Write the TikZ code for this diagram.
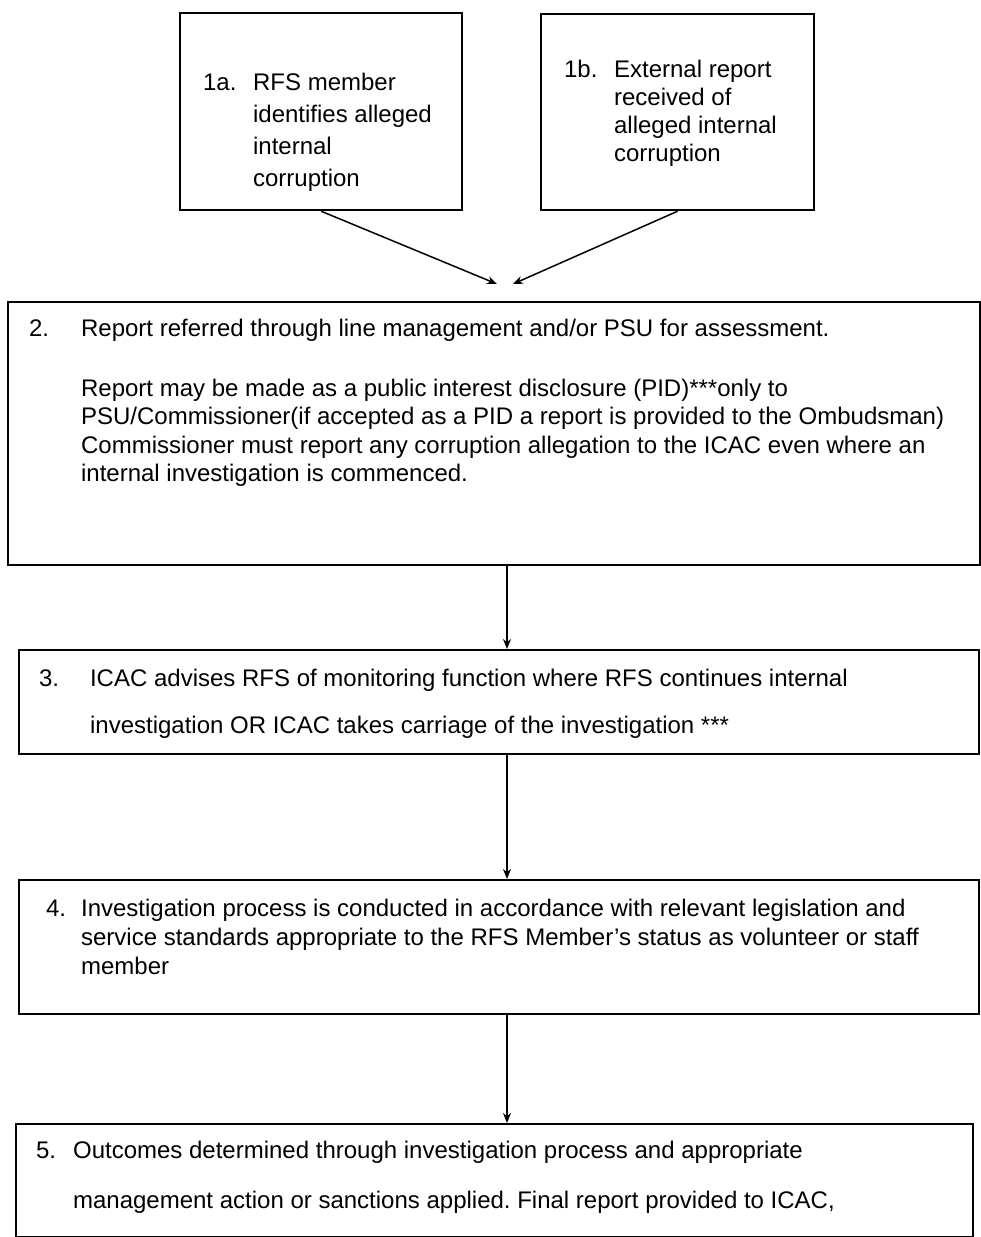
\documentclass[tikz,border=0pt]{standalone}
\usepackage{fontspec}
\setmainfont{Liberation Sans}
\usetikzlibrary{arrows.meta}
\frenchspacing

\begin{document}
\begin{tikzpicture}[x=0.5pt,y=-0.5pt,>={Stealth[length=5pt,width=4pt]},
  box/.style={draw,line width=1.1pt,inner sep=0pt,anchor=north west,font=\fontsize{12}{14}\selectfont},
  link/.style={->,line width=0.75pt}]
  \useasboundingbox (0,0) rectangle (980,1237);

  % Meldungen
  \node[box] (b1a) at (179,12) {\parbox[t][98.5pt][t]{141pt}{\vspace*{29.9pt}\hspace*{11.5pt}\makebox[25pt][l]{1a.}\parbox[t]{100pt}{\fontsize{12}{16}\selectfont RFS member\\identifies alleged\\internal\\corruption}}};
  \node[box] (b1b) at (540,13) {\parbox[t][98pt][t]{136.5pt}{\vspace*{22.9pt}\hspace*{11.5pt}\makebox[25pt][l]{1b.}\parbox[t]{100pt}{\fontsize{12}{14}\selectfont External report\\received of\\alleged internal\\corruption}}};

  % Schritte
  \node[box] (b2) at (7,301) {\parbox[t][131.5pt][t]{486pt}{\vspace*{8.4pt}\hspace*{10.5pt}\makebox[26pt][l]{2.}\parbox[t]{445pt}{\fontsize{12}{14.2}\selectfont Report referred through line management and/or PSU for assessment.\\[15.8pt]
    Report may be made as a public interest disclosure (PID)***only to\\
    PSU/Commissioner(if accepted as a PID a report is provided to the Ombudsman)\\
    Commissioner must report any corruption allegation to the ICAC even where an\\
    internal investigation is commenced.}}};
  \node[box] (b3) at (18,649) {\parbox[t][52pt][t]{480pt}{\vspace*{9.4pt}\hspace*{10pt}\makebox[25.5pt][l]{3.}\parbox[t]{440pt}{\fontsize{12}{23.5}\selectfont ICAC advises RFS of monitoring function where RFS continues internal\\
    investigation OR ICAC takes carriage of the investigation ***}}};
  \node[box] (b4) at (18,879) {\parbox[t][67pt][t]{480pt}{\vspace*{9.4pt}\hspace*{13.5pt}\makebox[17.5pt][l]{4.}\parbox[t]{445pt}{\fontsize{12}{14.5}\selectfont Investigation process is conducted in accordance with relevant legislation and\\
    service standards appropriate to the RFS Member's status as volunteer or staff\\
    member}}};
  \node[box] (b5) at (15,1123) {\parbox[t][56.5pt][t]{478.5pt}{\vspace*{8.4pt}\hspace*{10pt}\makebox[18.5pt][l]{5.}\parbox[t]{445pt}{\fontsize{12}{25}\selectfont Outcomes determined through investigation process and appropriate\\
    management action or sanctions applied. Final report provided to ICAC,}}};

  % Pfeile
  \coordinate (m1) at (497,284);
  \coordinate (m2) at (513,284);
  \coordinate (ax) at (507,0);
  \draw[link] (b1a.south) -- (m1);
  \draw[link] (b1b.south) -- (m2);
  \draw[link] (b2.south -| ax) -- (b3.north -| ax);
  \draw[link] (b3.south -| ax) -- (b4.north -| ax);
  \draw[link] (b4.south -| ax) -- (b5.north -| ax);
\end{tikzpicture}
\end{document}
